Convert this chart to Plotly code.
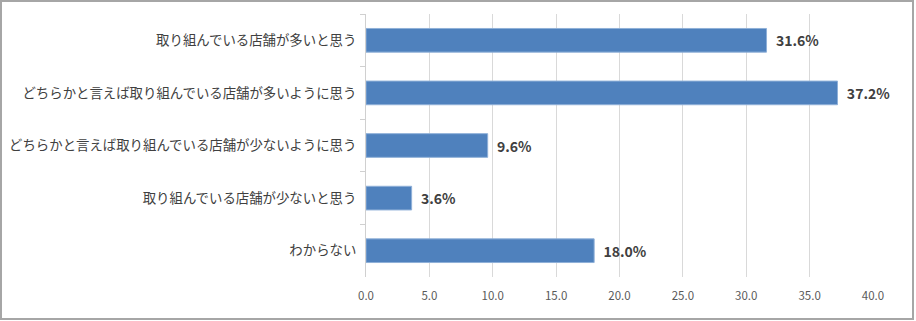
import plotly.graph_objects as go

categories = [
    "取り組んでいる店舗が多いと思う",
    "どちらかと言えば取り組んでいる店舗が多いように思う",
    "どちらかと言えば取り組んでいる店舗が少ないように思う",
    "取り組んでいる店舗が少ないと思う",
    "わからない",
]
values = [31.6, 37.2, 9.6, 3.6, 18.0]
labels = [f"  {v:.1f}%" for v in values]
tick_vals = [0, 5, 10, 15, 20, 25, 30, 35, 40]
tick_text = [f"{t:.1f}" for t in tick_vals]

W, H = 916, 321
ml, mr, mt, mb = 366, 43, 14, 44
pw, ph = W - ml - mr, H - mt - mb

fig = go.Figure(go.Bar(
    x=values, y=categories, orientation="h",
    marker=dict(color="#4f81bd", line=dict(color="#8fb0d8", width=1)),
    text=labels, textposition="outside", cliponaxis=False,
    textfont=dict(family="Noto Sans CJK JP", size=14, color="#404040", weight="bold"),
))

fig.update_layout(
    width=W, height=H,
    margin=dict(l=ml, r=mr, t=mt, b=mb, pad=0),
    plot_bgcolor="white", paper_bgcolor="white",
    bargap=0.55, showlegend=False,
    font=dict(family="Noto Sans CJK JP", color="#404040"),
    shapes=[dict(
        type="rect", xref="paper", yref="paper",
        x0=(1 - ml) / pw, x1=(W - 3 - ml) / pw,
        y0=-(mb - 2) / ph, y1=1 + (mt - 1) / ph,
        line=dict(color="#a6a6a6", width=2), layer="below",
    )],
)
fig.update_xaxes(
    range=[0, 40], tickvals=tick_vals, ticktext=tick_text,
    showgrid=True, gridcolor="#d9d9d9", gridwidth=1,
    zeroline=False, showline=False, automargin=False,
    ticks="outside", ticklen=8, tickcolor="rgba(0,0,0,0)",
    tickfont=dict(size=11.5, color="#595959"),
)
fig.update_yaxes(
    autorange="reversed", showline=True, linecolor="#d0d0d0", linewidth=1,
    automargin=False,
    ticks="outside", tickson="boundaries", ticklen=5, tickcolor="#d0d0d0",
    tickfont=dict(size=13.4, color="#404040"), ticklabelstandoff=6,
)

fig.write_html("out.html")
